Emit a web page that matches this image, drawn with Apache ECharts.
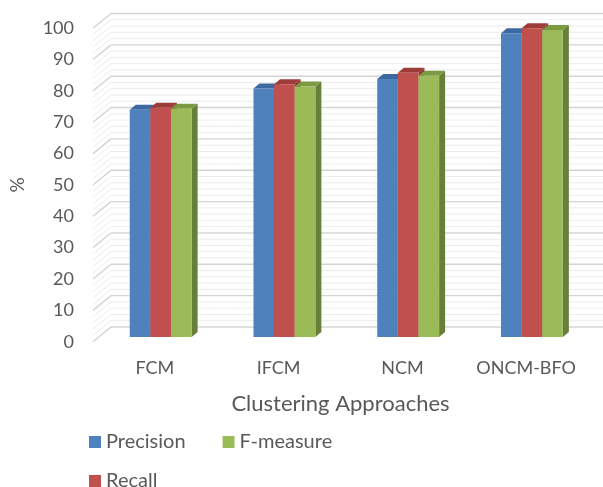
<!DOCTYPE html>
<html>
<head>
<meta charset="utf-8">
<script src="https://cdn.jsdelivr.net/npm/echarts@6/dist/echarts.min.js"></script>
<style>
  html, body { margin: 0; padding: 0; background: #ffffff; }
  #chart { width: 603px; height: 487px; }
</style>
</head>
<body>
<div id="chart"></div>
<script>
// Clustering approaches compared on three quality measures (%)
const categories = ['FCM', 'IFCM', 'NCM', 'ONCM-BFO'];
const precision = [72.5, 79.3, 82.3, 96.9];
const recall    = [73.1, 80.6, 84.3, 98.5];
const fMeasure  = [72.8, 79.9, 83.3, 97.9];

const yMin = 0, yMax = 100, yMajor = 10, yMinor = 2;

const FONT = 'Lato, "Open Sans", sans-serif';
const TEXT = '#595959';

// 3-D look: offsets from the front plane (where the axes sit)
const BAR_SHIFT = [5.8, -4.7];   // bar front face
const BAR_DEPTH = [6, -5];       // bar thickness
const WALL_SHIFT = [18, -14.7];  // back wall

const faces = [
  { name: 'Precision', front: '#4f81bd', top: '#3d68a0', side: '#375d8f' },
  { name: 'Recall',    front: '#c0504d', top: '#9c3b38', side: '#8f3532' },
  { name: 'F-measure', front: '#9bbb59', top: '#7b9a42', side: '#677f38' }
];

// gridline values for the walls
const wallValues = [];
for (let v = yMin; v <= yMax + 1e-9; v += yMinor) wallValues.push([Math.round(v * 100) / 100]);

function wallItem(params, api) {
  const v = api.value(0);
  const band = api.size([1, 0])[0];
  const pL = api.coord([0, v]);
  const pR = api.coord([categories.length - 1, v]);
  const xL = pL[0] - band / 2;
  const xR = pR[0] + band / 2 + WALL_SHIFT[0] + 20;
  const y = pL[1];
  const major = Math.abs(v / yMajor - Math.round(v / yMajor)) < 1e-6;
  const stroke = major ? '#d4d4d4' : '#ececec';
  const lw = major ? 1.4 : 1;
  return {
    type: 'group',
    children: [
      { type: 'line', shape: { x1: xL, y1: y, x2: xL + WALL_SHIFT[0], y2: y + WALL_SHIFT[1] },
        style: { stroke: stroke, lineWidth: lw } },
      { type: 'line', shape: { x1: xL + WALL_SHIFT[0], y1: y + WALL_SHIFT[1], x2: xR, y2: y + WALL_SHIFT[1] },
        style: { stroke: stroke, lineWidth: lw } }
    ],
    z2: major ? 2 : 1
  };
}

function barRenderer(sIdx) {
  const f = faces[sIdx];
  return function (params, api) {
    const cat = api.value(0);
    const val = api.value(1);
    const band = api.size([1, 0])[0];
    const w = band * 0.5 / 3;
    const base = api.coord([cat, 0]);
    const top = api.coord([cat, val]);
    const x0 = base[0] - band * 0.25 + sIdx * w + BAR_SHIFT[0];
    const yB = base[1] + BAR_SHIFT[1];
    const yT = top[1] + BAR_SHIFT[1];
    const dx = BAR_DEPTH[0], dy = BAR_DEPTH[1];
    return {
      type: 'group',
      children: [
        { type: 'polygon',
          shape: { points: [[x0 + w, yT], [x0 + w + dx, yT + dy], [x0 + w + dx, yB + dy], [x0 + w, yB]] },
          style: { fill: f.side } },
        { type: 'polygon',
          shape: { points: [[x0, yT], [x0 + dx, yT + dy], [x0 + w + dx, yT + dy], [x0 + w, yT]] },
          style: { fill: f.top } },
        { type: 'rect', shape: { x: x0, y: yT, width: w, height: yB - yT },
          style: { fill: f.front } }
      ]
    };
  };
}

const seriesValues = [precision, recall, fMeasure];

const series = [{
  type: 'custom',
  name: 'walls',
  silent: true,
  renderItem: wallItem,
  data: wallValues,
  encode: { y: 0 },
  z: 1
}];
seriesValues.forEach(function (vals, i) {
  series.push({
    type: 'custom',
    name: faces[i].name,
    itemStyle: { color: faces[i].front },
    renderItem: barRenderer(i),
    data: vals.map(function (v, k) { return [k, v]; }),
    encode: { x: 0, y: 1 },
    z: 2 + i
  });
});

const legendCommon = {
  icon: 'rect',
  itemWidth: 12,
  itemHeight: 12,
  itemGap: 37,
  left: 84,
  textStyle: { fontFamily: FONT, fontSize: 20, color: TEXT },
  selectedMode: false
};

const chart = echarts.init(document.getElementById('chart'), null, { renderer: 'canvas' });
chart.setOption({
  animation: false,
  backgroundColor: '#ffffff',
  grid: { left: 92, top: 28.2, width: 496, height: 313.5, containLabel: false },
  xAxis: {
    type: 'category',
    data: categories,
    axisLine: { show: false },
    axisTick: { show: false },
    axisLabel: { fontFamily: FONT, fontSize: 18, color: TEXT, margin: 17, interval: 0 },
    name: 'Clustering Approaches',
    nameLocation: 'middle',
    nameGap: 51,
    nameTextStyle: { fontFamily: FONT, fontSize: 22, color: TEXT }
  },
  yAxis: {
    type: 'value',
    min: yMin,
    max: yMax,
    interval: yMajor,
    axisLine: { show: false },
    axisTick: { show: false },
    splitLine: { show: false },
    axisLabel: { fontFamily: FONT, fontSize: 18, color: TEXT, margin: 19 },
    name: '%',
    nameLocation: 'middle',
    nameRotate: 90,
    nameGap: 66,
    nameTextStyle: { fontFamily: FONT, fontSize: 19, color: TEXT }
  },
  legend: [
    Object.assign({ data: ['Precision', 'F-measure'], top: 427 }, legendCommon),
    Object.assign({ data: ['Recall'], top: 466 }, legendCommon)
  ],
  series: series
});
</script>
</body>
</html>
